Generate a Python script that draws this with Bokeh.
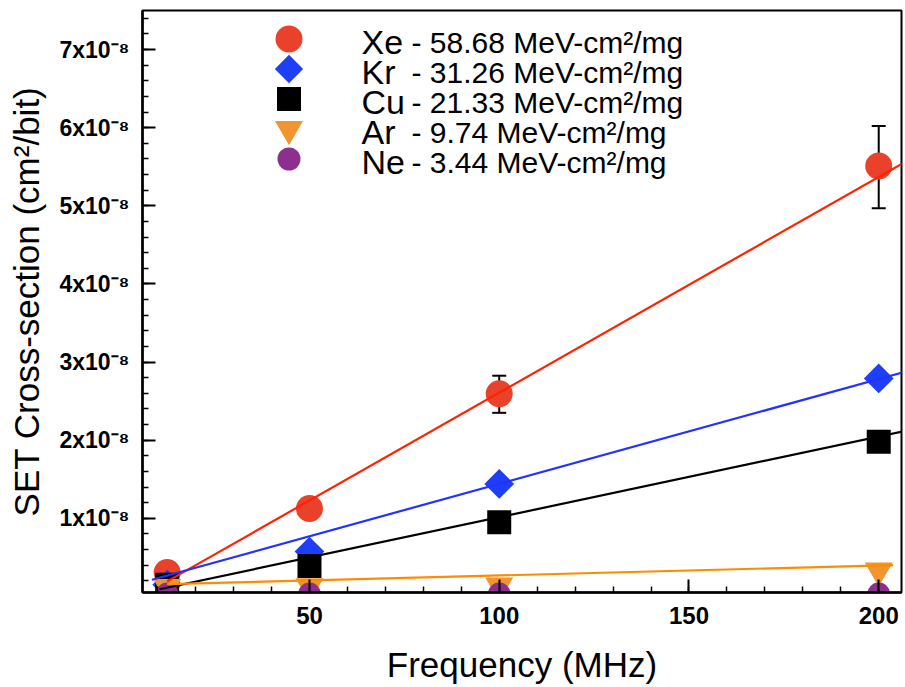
import numpy as np
from bokeh.plotting import figure
from bokeh.models import Range1d, FixedTicker, ColumnDataSource, Whisker, TeeHead
from bokeh.core.properties import value
from bokeh.embed import file_html
from bokeh.resources import INLINE

# ---------------- data ----------------
freq = [12.5, 50, 100, 200]                       # MHz
xe = [0.307e-8, 1.125e-8, 2.595e-8, 5.51e-8]
kr = [0.15e-8, 0.575e-8, 1.44e-8, 2.79e-8]
cu = [0.15e-8, 0.39e-8, 0.95e-8, 1.98e-8]
ar = [0.12e-8, 0.13e-8, 0.14e-8, 0.33e-8]
ne = [0.03e-8, 0.03e-8, 0.03e-8, 0.03e-8]

xe_err_freq = [100, 200]
xe_err_lower = [2.35e-8, 4.97e-8]
xe_err_upper = [2.825e-8, 6.02e-8]

ions = ["Xe", "Kr", "Cu", "Ar", "Ne"]
let_values = ["58.68", "31.26", "21.33", "9.74", "3.44"]

# linear fit lines (Xe, Kr, Cu, Ar): slope per MHz and intercept
fit_slope = [0.02761e-8, 0.01342e-8, 0.01031e-8, 0.00128e-8]
fit_intercept = [-0.153e-8, 0.099e-8, -0.017e-8, 0.140e-8]
fit_start = [12.5, 8.5, 10.5, 12.5]
fit_end = [210, 210, 210, 203.8]

x_ticks = [50, 100, 150, 200]
y_ticks = [1e-8, 2e-8, 3e-8, 4e-8, 5e-8, 6e-8, 7e-8]
y_tick_labels = ["1x10\u207b\u2078", "2x10\u207b\u2078", "3x10\u207b\u2078", "4x10\u207b\u2078",
                 "5x10\u207b\u2078", "6x10\u207b\u2078", "7x10\u207b\u2078"]

# ---------------- styles ----------------
FONT = "Liberation Sans"
marker_colors = ["#e9412a", "#1f3ef7", "#000000", "#f0952f", "#8c2f8e"]
line_colors = ["#ff2200", "#2233ff", "#000000", "#ff8c00"]
markers = ["circle", "square", "square", "inverted_triangle", "circle"]
angles = [0, np.pi / 4, 0, 0, 0]
sizes = [27, 21, 24, 28, 23]
legend_sizes = [27, 20, 24, 28, 23]

FW, FH = 759, 582
p = figure(frame_width=FW, frame_height=FH,
           min_border_left=142, min_border_right=4, min_border_top=10, min_border_bottom=95,
           x_range=Range1d(6, 206), y_range=Range1d(0.05e-8, 7.5e-8),
           output_backend="svg", toolbar_location=None)
p.background_fill_color = "white"
p.border_fill_color = "white"
p.outline_line_color = "black"
p.outline_line_width = 2
p.xgrid.visible = False
p.ygrid.visible = False

# axes
p.xaxis.ticker = FixedTicker(ticks=x_ticks, minor_ticks=list(range(10, 210, 10)))
p.yaxis.ticker = FixedTicker(ticks=y_ticks, minor_ticks=[i * 0.2e-8 for i in range(1, 38)])
p.yaxis.major_label_overrides = {t: l for t, l in zip(y_ticks, y_tick_labels)}
for ax in (p.xaxis[0], p.yaxis[0]):
    ax.axis_line_width = 2.5
    ax.axis_line_color = "black"
    ax.major_tick_in = 13
    ax.major_tick_out = 0
    ax.minor_tick_in = 6
    ax.minor_tick_out = 0
    ax.major_tick_line_width = 2
    ax.minor_tick_line_width = 1.5
    ax.major_tick_line_color = "black"
    ax.minor_tick_line_color = "black"
    ax.major_label_text_font = FONT
    ax.major_label_text_font_style = "bold"
    ax.major_label_text_color = "black"
    ax.axis_label_text_font = FONT
    ax.axis_label_text_font_style = "normal"
    ax.axis_label_text_color = "black"
p.xaxis.major_label_text_font_size = "24px"
p.yaxis.major_label_text_font_size = "23px"
p.xaxis.major_label_standoff = 14
p.yaxis.major_label_standoff = 13
p.xaxis.axis_label = "Frequency (MHz)"
p.yaxis.axis_label = "SET Cross-section (cm\u00b2/bit)"
p.xaxis.axis_label_text_font_size = "35px"
p.yaxis.axis_label_text_font_size = "35px"
p.xaxis.axis_label_standoff = 18
p.yaxis.axis_label_standoff = 10

# error bars (behind markers)
err_src = ColumnDataSource(dict(x=xe_err_freq, lower=xe_err_lower, upper=xe_err_upper))
p.add_layout(Whisker(base="x", lower="lower", upper="upper", source=err_src,
                     line_color="black", line_width=2, level="underlay",
                     upper_head=TeeHead(size=14, line_width=2, line_color="black"),
                     lower_head=TeeHead(size=14, line_width=2, line_color="black")))

# data markers
series = [xe, kr, cu, ar, ne]
for i, ys in enumerate(series):
    p.scatter(x=freq, y=ys, marker=markers[i], size=sizes[i], angle=angles[i],
              fill_color=marker_colors[i], line_color=marker_colors[i], line_width=0)

# fit lines (on top of markers)
for i in range(4):
    xs = np.array([fit_start[i], fit_end[i]])
    ys = fit_slope[i] * xs + fit_intercept[i]
    p.line(x=xs, y=ys, line_color=line_colors[i], line_width=2.2)

# legend drawn in frame pixel coordinates
p.extra_x_ranges = {"lx": Range1d(0, FW)}
p.extra_y_ranges = {"ly": Range1d(FH, 0)}
leg_marker_x = 146.5
leg_name_x = 219
leg_desc_x = 269
leg_row0 = 28.5
leg_dy = 30
rows = [leg_row0 + leg_dy * i for i in range(len(ions))]
for i, ion in enumerate(ions):
    p.scatter(x=[leg_marker_x], y=[rows[i]], marker=markers[i], size=legend_sizes[i],
              angle=angles[i], fill_color=marker_colors[i], line_color=marker_colors[i],
              line_width=0, x_range_name="lx", y_range_name="ly")
p.text(x=[leg_name_x] * len(ions), y=[r + 3 for r in rows], text=ions,
       text_font=value(FONT), text_font_size="34px", text_baseline="alphabetic",
       text_color="black", x_range_name="lx", y_range_name="ly")
desc = ["- " + v + " MeV-cm\u00b2/mg" for v in let_values]
p.text(x=[leg_desc_x] * len(ions), y=[r + 3 for r in rows], text=desc,
       text_font=value(FONT), text_font_size="30px", text_baseline="alphabetic",
       text_color="black", x_range_name="lx", y_range_name="ly")

open("out.html", "w").write(file_html(p, INLINE))
